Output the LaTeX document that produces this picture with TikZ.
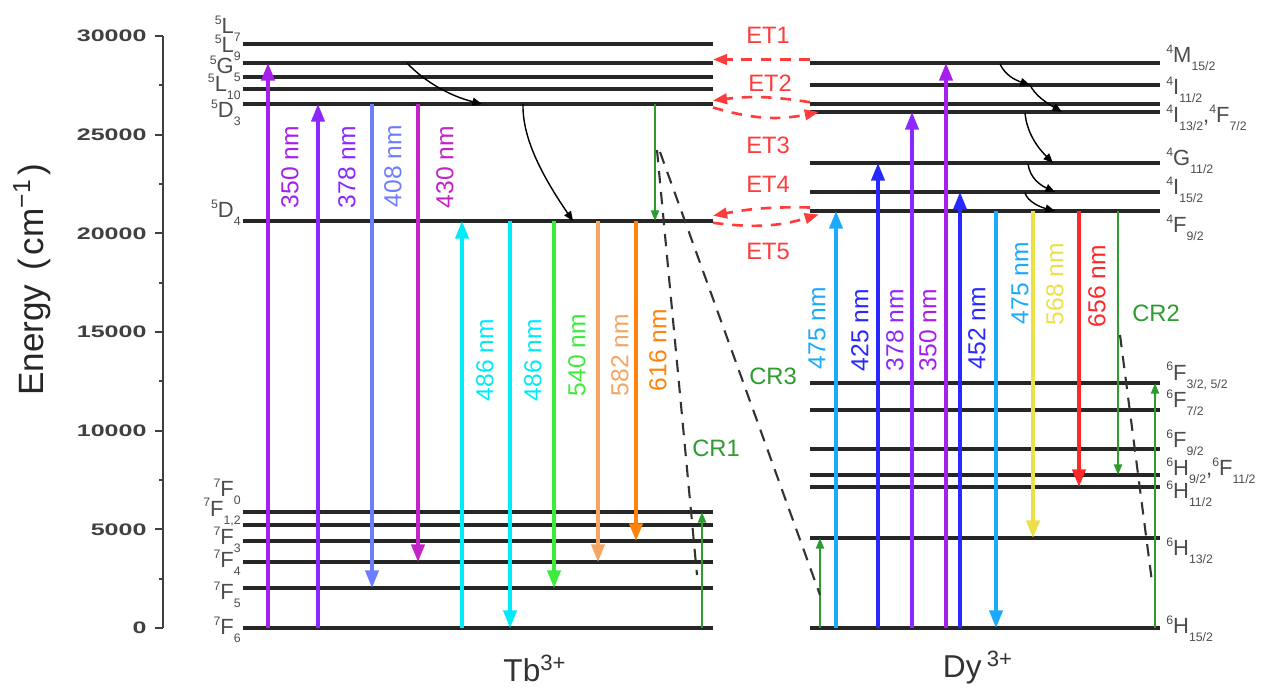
\documentclass[tikz,border=0pt]{standalone}
\usepackage{fontspec}
\setmainfont{Liberation Sans}
\usetikzlibrary{arrows.meta}

\definecolor{vio}{RGB}{165,32,235}
\definecolor{vio2}{RGB}{140,40,255}
\definecolor{peri}{RGB}{110,125,255}
\definecolor{mag}{RGB}{195,35,200}
\definecolor{cya}{RGB}{0,235,250}
\definecolor{lgreen}{RGB}{60,235,60}
\definecolor{lorange}{RGB}{245,165,100}
\definecolor{orng}{RGB}{255,130,10}
\definecolor{crgreen}{RGB}{45,155,45}
\definecolor{sky}{RGB}{30,170,250}
\definecolor{blu}{RGB}{40,40,255}
\definecolor{yel}{RGB}{235,225,70}
\definecolor{rd}{RGB}{255,40,40}
\definecolor{etred}{RGB}{255,60,60}

\newcommand{\term}[3]{\raisebox{0.8ex}{\fontsize{7}{7}\selectfont#1}#2\raisebox{-0.7ex}{\fontsize{7}{7}\selectfont#3}}

\tikzset{
	level/.style={line width=2pt,black!85},
	photon/.style={line width=1.9pt,-{Triangle[length=10pt,width=7.5pt]}},
	crarrow/.style={line width=1.2pt,crgreen,-{Triangle[length=6pt,width=4.5pt]}},
	relax/.style={line width=0.8pt,-{Triangle[length=5.5pt,width=4.5pt]}},
	crdash/.style={line width=1.2pt,black!80,dash pattern=on 7pt off 5pt},
	et/.style={line width=1.5pt,etred,dash pattern=on 6pt off 5pt,-{Triangle[length=8pt,width=6pt]}},
	wl/.style={rotate=90,inner sep=0pt,font=\fontsize{14}{14}\selectfont},
	term/.style={inner sep=0pt,black!70,font=\fontsize{12.5}{12.5}\selectfont},
	tag/.style={inner sep=0pt,font=\fontsize{13.5}{13.5}\selectfont},
	ticklab/.style={anchor=east,inner sep=0pt,xscale=1.5,black!75,font=\bfseries\fontsize{9.5}{9.5}\selectfont},
}

\begin{document}
\begin{tikzpicture}[x=0.02cm,y=-0.02cm]
	%\draw[help lines] (0,0) grid (1267,693);
	\useasboundingbox (0,0) rectangle (1267,693);
	
	% energy axis
	\draw[line width=1pt,black!75] (163,36) -- (163,628);
	\foreach \k/\e in {0/0,5/5000,10/10000,15/15000,20/20000,25/25000,30/30000}{
		\draw[line width=1pt,black!75] (155,{628-\k*19.7333}) -- (163,{628-\k*19.7333});
		\node[ticklab] (tick\e) at (147,{628-\k*19.7333}) {\e};
	}
	\foreach \k in {2.5,7.5,...,27.5}
		\draw[line width=1pt,black!75] (159,{628-\k*19.7333}) -- (163,{628-\k*19.7333});
	\node[rotate=90,inner sep=0pt,black!85,font=\fontsize{20}{20}\selectfont] (axlab) at (32,280)
		{Energy\hspace{0.4em}(\hspace{0.1em}cm\textsuperscript{−1}\hspace{0.1em})};
	
	% Tb levels
	\foreach \n/\y in {tbL7/44,tbL9/63,tbG5/77,tbL10/89,tbD3/104,tbD4/221,
		tbF0/512,tbF12/525,tbF3/541,tbF4/562,tbF5/588,tbF6/628}{
		\coordinate (\n) at (713,\y);
		\draw[level] (243,\y) -- (\n);
	}
	% Dy levels
	\foreach \n/\y in {dyM15/63,dyI11/85,dyI13/104,dyF7/112,dyG11/163,dyI15/192,dyF9/211,
		dy6F35/383,dy6F7/410,dy6F9/449,dyH9/475,dyH11/487,dyH13/538,dyH15/628}{
		\coordinate (\n) at (810,\y);
		\draw[level] (\n) -- (1160,\y);
	}
	
	% term labels
	\node[term,anchor=east] (nL7) at (241,29) {\term{5}{L}{7}};
	\node[term,anchor=east] (nL9) at (241,48) {\term{5}{L}{9}};
	\node[term,anchor=east] (nG5) at (241,69) {\term{5}{G}{5}};
	\node[term,anchor=east] (nL10) at (241,87) {\term{5}{L}{10}};
	\node[term,anchor=east] (nD3) at (241,113) {\term{5}{D}{3}};
	\node[term,anchor=east] (nD4) at (241,213) {\term{5}{D}{4}};
	\node[term,anchor=east] (nF0) at (241,492) {\term{7}{F}{0}};
	\node[term,anchor=east] (nF12) at (241,512) {\term{7}{F}{1,2}};
	\node[term,anchor=east] (nF3) at (241,540) {\term{7}{F}{3}};
	\node[term,anchor=east] (nF4) at (241,563) {\term{7}{F}{4}};
	\node[term,anchor=east] (nF5) at (241,595) {\term{7}{F}{5}};
	\node[term,anchor=east] (nF6) at (241,630) {\term{7}{F}{6}};
	
	\node[term,anchor=west] (nM15) at (1166,58) {\term{4}{M}{15/2}};
	\node[term,anchor=west] (nI11) at (1166,90) {\term{4}{I}{11/2}};
	\node[term,anchor=west] (nI13) at (1166,118) {\term{4}{I}{13/2},\term{4}{F}{7/2}};
	\node[term,anchor=west] (nG11) at (1166,161) {\term{4}{G}{11/2}};
	\node[term,anchor=west] (nI15) at (1166,190) {\term{4}{I}{15/2}};
	\node[term,anchor=west] (nF9) at (1166,228) {\term{4}{F}{9/2}};
	\node[term,anchor=west] (n6F35) at (1166,376) {\term{6}{F}{3/2, 5/2}};
	\node[term,anchor=west] (n6F7) at (1166,403) {\term{6}{F}{7/2}};
	\node[term,anchor=west] (n6F9) at (1166,443) {\term{6}{F}{9/2}};
	\node[term,anchor=west] (nH9) at (1166,471) {\term{6}{H}{9/2},\term{6}{F}{11/2}};
	\node[term,anchor=west] (nH11) at (1166,494) {\term{6}{H}{11/2}};
	\node[term,anchor=west] (nH13) at (1166,551) {\term{6}{H}{13/2}};
	\node[term,anchor=west] (nH15) at (1166,629) {\term{6}{H}{15/2}};
	
	% radiative transitions
	\foreach \x/\a/\b/\c in {268/tbF6/tbL9/vio, 318/tbF6/tbD3/vio2, 372/tbD3/tbF5/peri,
		418/tbD3/tbF4/mag, 462/tbF6/tbD4/cya, 510/tbD4/tbF6/cya, 554/tbD4/tbF5/lgreen,
		598/tbD4/tbF4/lorange, 636/tbD4/tbF3/orng, 836/dyH15/dyF9/sky, 878/dyH15/dyG11/blu,
		912/dyH15/dyF7/vio2, 946/dyH15/dyM15/vio, 960/dyH15/dyI15/blu, 996/dyF9/dyH15/sky,
		1033/dyF9/dyH13/yel, 1079/dyF9/dyH11/rd}
		\draw[photon,\c] (\x,0 |- \a) -- (\x,0 |- \b);
	
	\foreach \x/\y/\c/\t [count=\i] in {290/167/vio/350, 347/167/vio2/378, 393/166/peri/408,
		445/167/mag/430, 485/360/cya/486, 533/360/cya/486, 577/355/lgreen/540,
		620/355/lorange/582, 658/350/orng/616, 817/328/sky/475, 860/330/blu/425,
		895/330/vio2/378, 928/330/vio/350, 977/328/blu/452, 1020/283/sky/475,
		1055/284/yel/568, 1097/286/rd/656}
		\node[wl,\c] (wl\i) at (\x,\y) {\t{} nm};
	
	% cross relaxation
	\foreach \x/\a/\b in {655/tbD3/tbD4, 702/tbF6/tbF0, 820/dyH15/dyH13, 1118/dyF9/dyH9, 1155/dyH15/dy6F35}
		\draw[crarrow] (\x,0 |- \a) -- (\x,0 |- \b);
	\draw[crdash] (657,150) -- (697,575);
	\draw[crdash] (660,152) -- (820,595);
	\draw[crdash] (1120,335) -- (1152,582);
	\node[tag,crgreen] (cr1) at (716,448) {CR1};
	\node[tag,crgreen] (cr2) at (1156,313) {CR2};
	\node[tag,crgreen] (cr3) at (773,376) {CR3};
	
	% non-radiative relaxation
	\draw[relax] (407,63) .. controls (425,82) and (450,96) .. (482,104);
	\draw[relax] (523,104) .. controls (522,140) and (545,180) .. (573,221);
	\draw[relax] (1000,64) .. controls (1005,75) and (1015,80) .. (1030,85);
	\draw[relax] (1030,85) .. controls (1035,95) and (1045,102) .. (1062,112);
	\draw[relax] (1025,113) .. controls (1027,135) and (1040,150) .. (1053,163);
	\draw[relax] (1028,164) .. controls (1030,178) and (1040,185) .. (1055,192);
	\draw[relax] (1025,193) .. controls (1028,202) and (1040,207) .. (1055,211);
	
	% energy transfer
	\draw[et] ([yshift=2pt]dyM15) -- ([yshift=2pt]tbL9);
	\draw[et] ([yshift=1pt]dyI13) to[bend right=8] ([yshift=2pt]tbD3);
	\draw[et] ([yshift=-2pt]tbD3) to[bend right=14] ([xshift=5pt]dyF7);
	\draw[et] ([yshift=2pt]dyF9) to[bend right=6] ([yshift=3pt]tbD4);
	\draw[et] ([yshift=-1pt]tbD4) to[bend right=12] ([xshift=5pt,yshift=-2pt]dyF9);
	\node[tag,etred] (et1) at (768,35) {ET1};
	\node[tag,etred] (et2) at (770,83) {ET2};
	\node[tag,etred] (et3) at (768,145) {ET3};
	\node[tag,etred] (et4) at (768,184) {ET4};
	\node[tag,etred] (et5) at (768,251) {ET5};
	
	% ions
	\node[inner sep=0pt,black!80,font=\fontsize{18}{18}\selectfont] (tb) at (535,668) {Tb\textsuperscript{3+}};
	\node[inner sep=0pt,black!80,font=\fontsize{18}{18}\selectfont] (dy) at (978,668) {Dy\,\textsuperscript{3+}};
\end{tikzpicture}
\end{document}
